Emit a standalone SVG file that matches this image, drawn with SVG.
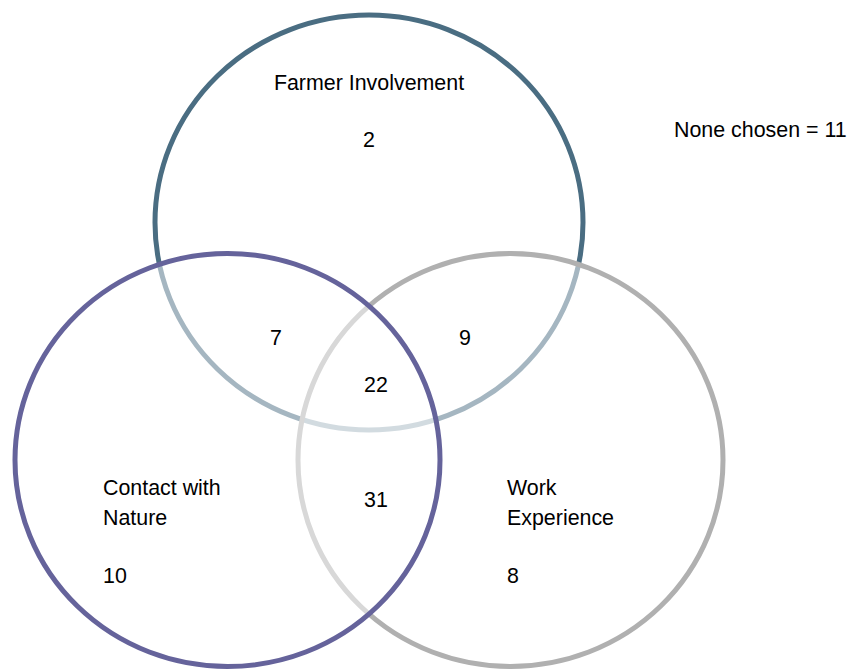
<svg xmlns="http://www.w3.org/2000/svg" width="848" height="671" viewBox="0 0 848 671">
<style>
.c{fill:#ffffff;fill-opacity:0.5;stroke-width:5}
.t{font-family:"Liberation Sans",Arial,sans-serif;font-size:21.4px;fill:#000}
.m{text-anchor:middle}
</style>
<rect width="848" height="671" fill="#ffffff"/>
<g id="connectors"></g>
<g id="farmer">
<ellipse class="c" cx="369" cy="222.5" rx="214" ry="207.5" stroke="#4a6d82"/>
<text class="t m" x="369" y="90">Farmer Involvement</text>
<text class="t m" x="369" y="147">2</text>
</g>
<g id="work">
<ellipse class="c" cx="510.5" cy="460" rx="212.5" ry="206.5" stroke="#b0b0b0"/>
<text class="t" x="507" y="495">Work</text>
<text class="t" x="507" y="525">Experience</text>
<text class="t" x="507" y="583">8</text>
</g>
<g id="nature">
<ellipse class="c" cx="227.5" cy="460" rx="212.5" ry="206.5" stroke="#65639b"/>
<text class="t" x="103" y="495">Contact with</text>
<text class="t" x="103" y="525">Nature</text>
<text class="t" x="103" y="583">10</text>
</g>
<g id="overlaps">
<text class="t m" x="276" y="345">7</text>
<text class="t m" x="465" y="345">9</text>
<text class="t m" x="376" y="392">22</text>
<text class="t m" x="376" y="507">31</text>
</g>
<g id="none">
<text class="t" x="674" y="137">None chosen = 11</text>
</g>
</svg>
